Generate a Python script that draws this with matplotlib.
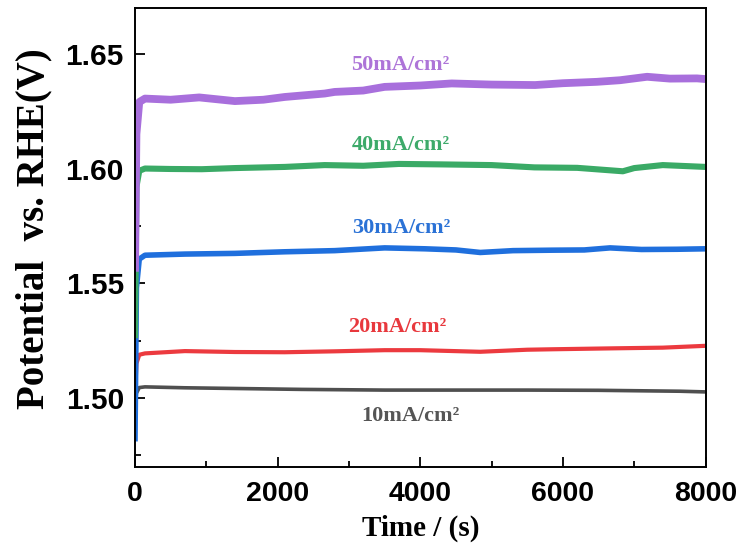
import matplotlib
matplotlib.use("Agg")
import matplotlib.pyplot as plt
from matplotlib.ticker import MultipleLocator

# ---- data ----
t_50 = [0, 20, 60, 140, 500, 900, 1400, 1800, 2100, 2660, 2800, 3200, 3500, 4000, 4440, 5000, 5610, 6000, 6475, 6800, 7180, 7500, 7880, 8000]
v_50 = [1.555, 1.615, 1.629, 1.6305, 1.6300, 1.6310, 1.6294, 1.6300, 1.6312, 1.6327, 1.6334, 1.6340, 1.6356, 1.6362, 1.6371, 1.6366, 1.6364, 1.6372, 1.6378, 1.6385, 1.6400, 1.6392, 1.6393, 1.6390]

t_40 = [0, 20, 60, 140, 500, 935, 1400, 2100, 2660, 3200, 3700, 4300, 5000, 5600, 6200, 6840, 7000, 7400, 8000]
v_40 = [1.526, 1.592, 1.5990, 1.6000, 1.5998, 1.5997, 1.6002, 1.6007, 1.6015, 1.6012, 1.6020, 1.6018, 1.6015, 1.6005, 1.6003, 1.5988, 1.6002, 1.6015, 1.6007]

t_30 = [0, 20, 60, 140, 700, 1400, 2100, 2800, 3500, 4065, 4500, 4840, 5300, 5860, 6300, 6660, 7100, 7600, 8000]
v_30 = [1.481, 1.548, 1.5605, 1.5622, 1.5627, 1.5630, 1.5637, 1.5642, 1.5654, 1.5650, 1.5645, 1.5634, 1.5642, 1.5644, 1.5645, 1.5654, 1.5647, 1.5648, 1.5650]

t_20 = [0, 20, 60, 140, 700, 1400, 2100, 2800, 3500, 4000, 4840, 5500, 5860, 6700, 7400, 8000]
v_20 = [1.500, 1.515, 1.5188, 1.5194, 1.5204, 1.5200, 1.5199, 1.5203, 1.5208, 1.5208, 1.5201, 1.5210, 1.5212, 1.5216, 1.5219, 1.5227]

t_10 = [0, 20, 60, 140, 700, 1400, 2340, 3500, 4500, 5500, 6500, 7640, 8000]
v_10 = [1.490, 1.502, 1.5045, 1.5048, 1.5044, 1.5041, 1.5037, 1.5034, 1.5034, 1.5034, 1.5033, 1.5029, 1.5026]

labels = ["10mA/cm²", "20mA/cm²", "30mA/cm²", "40mA/cm²", "50mA/cm²"]
label_t = [3860, 3680, 3740, 3730, 3720]
label_v = [1.4920, 1.5308, 1.5740, 1.6101, 1.6450]

line_colors = ["#4f4f4f", "#ec3a3f", "#1f6fdd", "#3aaa66", "#a86fdc"]
text_colors = ["#555555", "#e8383d", "#2b72d6", "#3daa6a", "#ad74d8"]
widths = [2.6, 3.0, 4.0, 4.4, 5.6]

series = [(t_10, v_10), (t_20, v_20), (t_30, v_30), (t_40, v_40), (t_50, v_50)]

fig = plt.figure(figsize=(7.45, 5.54), dpi=100)
ax = fig.add_axes([0.1812, 0.1576, 0.7659, 0.828])

for (t, v), c, w in zip(series, line_colors, widths):
    ax.plot(t, v, color=c, lw=w, solid_joinstyle="round", solid_capstyle="butt")

for s, tx, ty, c in zip(labels, label_t, label_v, text_colors):
    ax.text(tx, ty, s, color=c, fontsize=16, fontweight="bold",
            family="Liberation Serif", ha="center", va="center")

ax.set_xlim(0, 8000)
ax.set_ylim(1.47, 1.67)
ax.xaxis.set_major_locator(MultipleLocator(2000))
ax.xaxis.set_minor_locator(MultipleLocator(1000))
ax.yaxis.set_major_locator(MultipleLocator(0.05))
ax.yaxis.set_minor_locator(MultipleLocator(0.025))
ax.yaxis.set_major_formatter(matplotlib.ticker.FormatStrFormatter("%.2f"))

for sp in ax.spines.values():
    sp.set_linewidth(1.4)
ax.tick_params(which="both", direction="in", top=False, right=False, width=1.3)
ax.tick_params(which="major", length=7)
ax.tick_params(which="minor", length=4)
ax.tick_params(axis="x", which="major", pad=10)
ax.tick_params(axis="y", which="major", pad=8)
for lab in ax.get_xticklabels():
    lab.set_fontfamily("Liberation Sans")
    lab.set_fontweight("bold")
    lab.set_fontsize(20.5)
for lab in ax.get_yticklabels():
    lab.set_fontfamily("Liberation Sans")
    lab.set_fontweight("bold")
    lab.set_fontsize(21.5)

ax.set_xlabel("Time / (s)", fontsize=21, fontweight="bold", family="Liberation Serif", labelpad=6)
ax.set_ylabel("Potential  vs. RHE(V)", fontsize=28, fontweight="bold", family="Liberation Serif")
ax.yaxis.set_label_coords(-0.145, 0.52)

fig.savefig("out.png", dpi=100)
